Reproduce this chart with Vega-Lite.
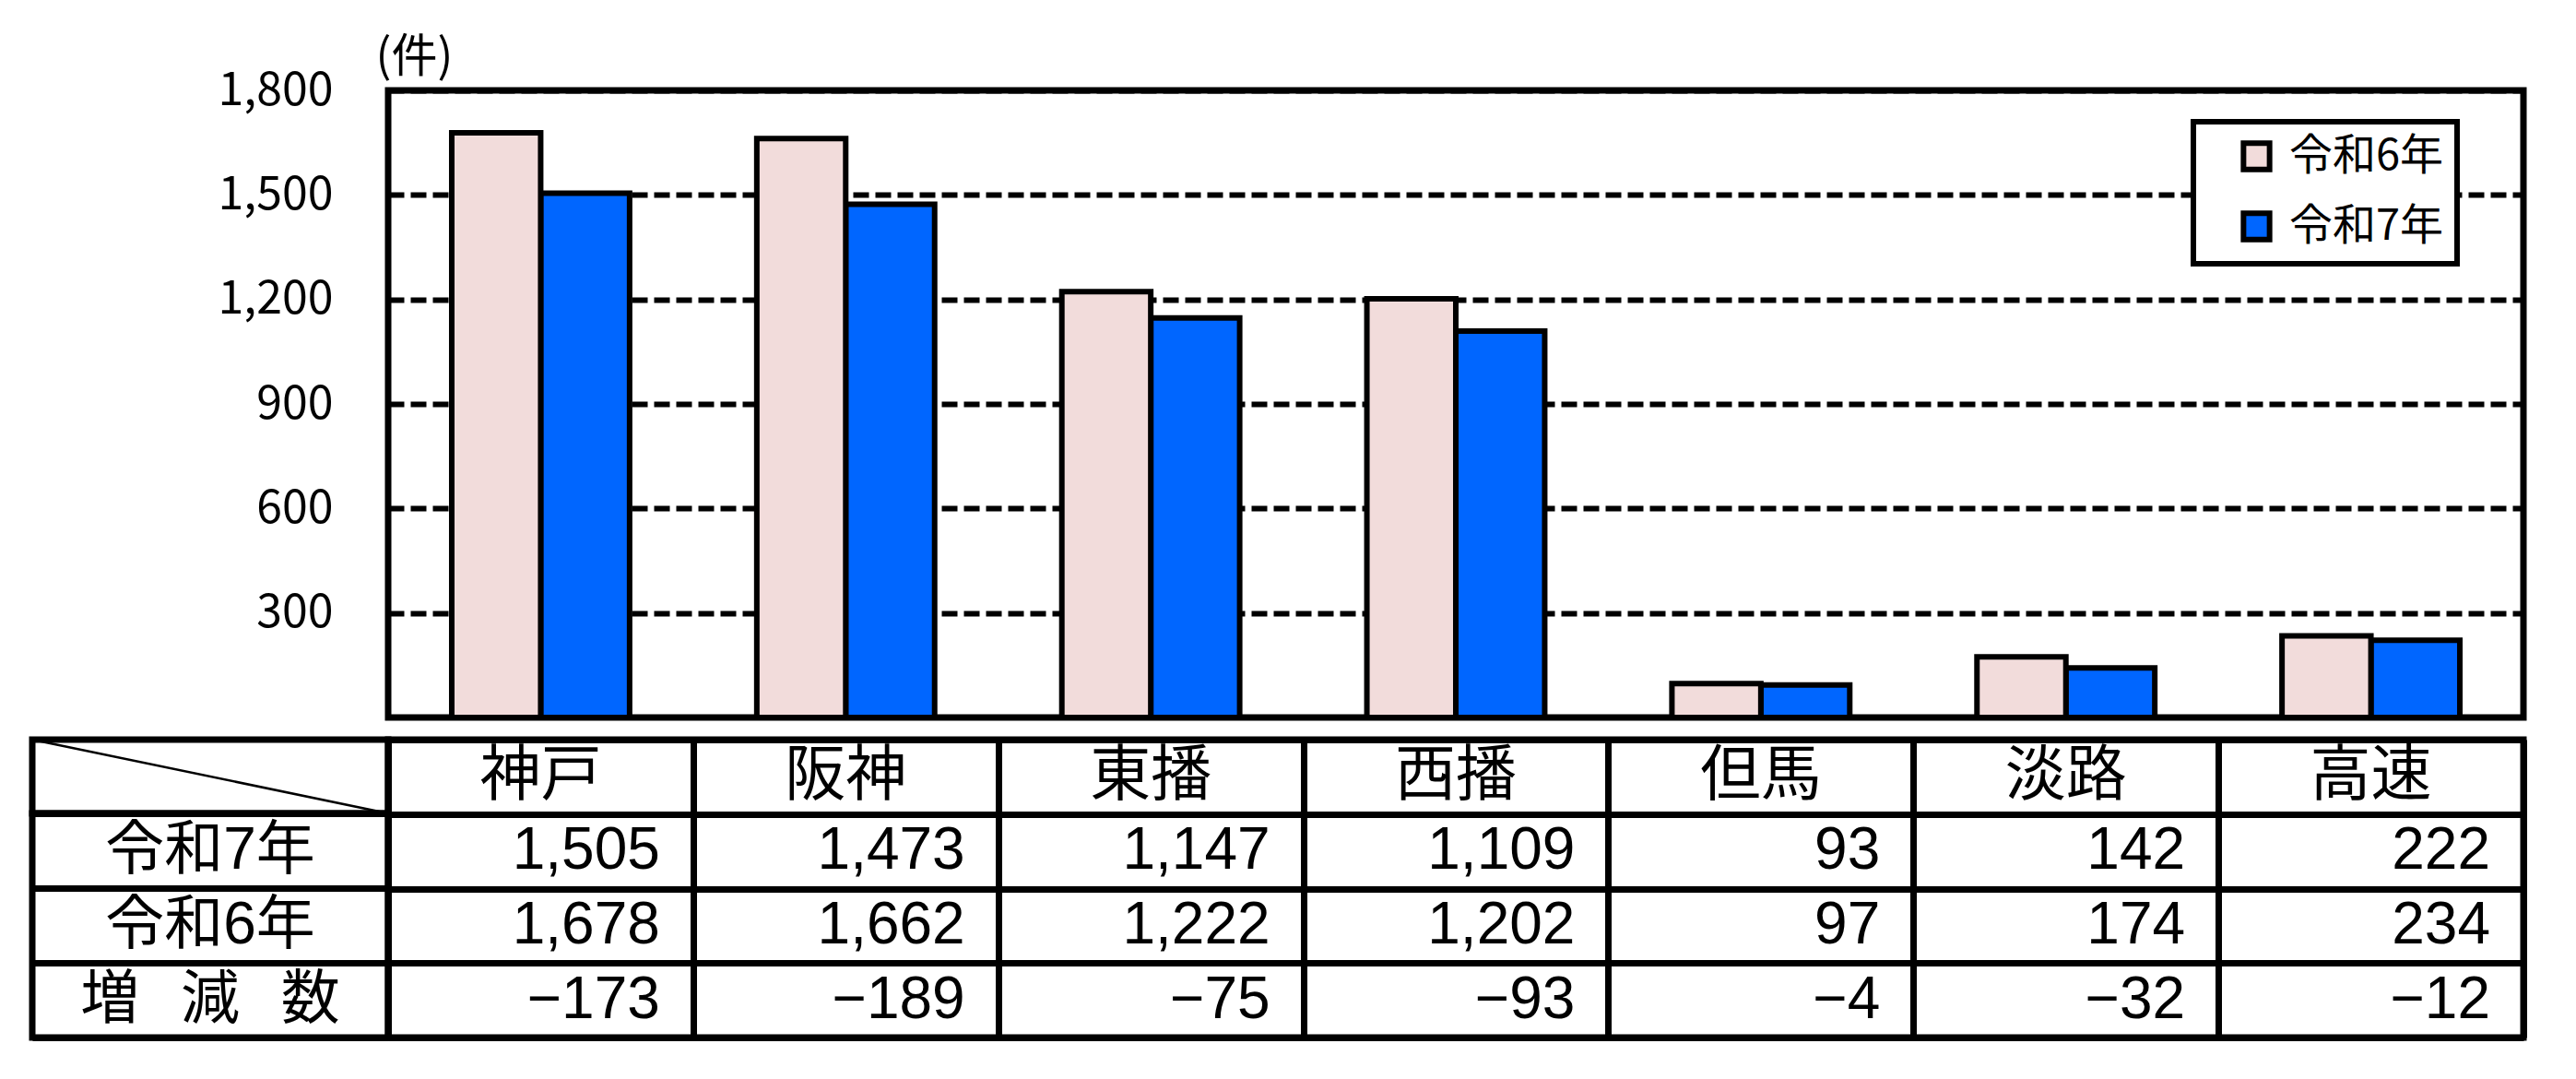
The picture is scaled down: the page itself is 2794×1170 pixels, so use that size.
{
  "$schema": "https://vega.github.io/schema/vega-lite/v6.json",
  "background": "white",
  "autosize": {"type": "pad"},
  "padding": {"left": 30, "top": 33, "right": 40, "bottom": 30},
  "config": {
    "font": "Noto Sans CJK JP",
    "view": {"stroke": "black", "strokeWidth": 7},
    "legend": {"strokeWidth": 6}
  },
  "datasets": {
    "counts": [
      {"region": "神戸", "row": "令和7年", "value": 1505},
      {"region": "神戸", "row": "令和6年", "value": 1678},
      {"region": "神戸", "row": "増\u2002\u2009減\u2002\u2009数", "value": -173},
      {"region": "阪神", "row": "令和7年", "value": 1473},
      {"region": "阪神", "row": "令和6年", "value": 1662},
      {"region": "阪神", "row": "増\u2002\u2009減\u2002\u2009数", "value": -189},
      {"region": "東播", "row": "令和7年", "value": 1147},
      {"region": "東播", "row": "令和6年", "value": 1222},
      {"region": "東播", "row": "増\u2002\u2009減\u2002\u2009数", "value": -75},
      {"region": "西播", "row": "令和7年", "value": 1109},
      {"region": "西播", "row": "令和6年", "value": 1202},
      {"region": "西播", "row": "増\u2002\u2009減\u2002\u2009数", "value": -93},
      {"region": "但馬", "row": "令和7年", "value": 93},
      {"region": "但馬", "row": "令和6年", "value": 97},
      {"region": "但馬", "row": "増\u2002\u2009減\u2002\u2009数", "value": -4},
      {"region": "淡路", "row": "令和7年", "value": 142},
      {"region": "淡路", "row": "令和6年", "value": 174},
      {"region": "淡路", "row": "増\u2002\u2009減\u2002\u2009数", "value": -32},
      {"region": "高速", "row": "令和7年", "value": 222},
      {"region": "高速", "row": "令和6年", "value": 234},
      {"region": "高速", "row": "増\u2002\u2009減\u2002\u2009数", "value": -12}
    ]
  },
  "columns": 2,
  "spacing": {"row": 24, "column": 0},
  "bounds": "flush",
  "concat": [
    {
      "width": 386,
      "height": 680,
      "view": {"stroke": null},
      "data": {"values": [{}]},
      "mark": {"type": "text"},
      "encoding": {"text": {"value": ""}}
    },
    {
      "width": 2316,
      "height": 680,
      "data": {"name": "counts"},
      "transform": [{"filter": "datum.row == '令和6年' || datum.row == '令和7年'"}],
      "mark": {"type": "bar", "stroke": "black", "strokeWidth": 6},
      "encoding": {
        "x": {
          "field": "region",
          "type": "nominal",
          "scale": {"domain": ["神戸", "阪神", "東播", "西播", "但馬", "淡路", "高速"], "paddingInner": 0.417, "paddingOuter": 0.2085},
          "axis": null
        },
        "xOffset": {
          "field": "row",
          "type": "nominal",
          "scale": {"domain": ["令和6年", "令和7年"], "paddingInner": 0, "paddingOuter": 0}
        },
        "y": {
          "field": "value",
          "type": "quantitative",
          "scale": {"domain": [0, 1800], "nice": false},
          "axis": {
            "values": [300, 600, 900, 1200, 1500, 1800],
            "format": ",.0f",
            "title": "(件)",
            "titleAngle": 0,
            "titleX": -14,
            "titleY": -36,
            "titleAlign": "left",
            "titleBaseline": "middle",
            "titleFontSize": 50,
            "titleFontWeight": "normal",
            "titleColor": "black",
            "labelFontSize": 50,
            "labelColor": "black",
            "labelPadding": 60,
            "ticks": false,
            "domain": false,
            "grid": true,
            "gridColor": "black",
            "gridWidth": 6,
            "gridDash": [17, 7],
            "gridOpacity": 1
          }
        },
        "color": {
          "field": "row",
          "type": "nominal",
          "scale": {"domain": ["令和6年", "令和7年"], "range": ["#F2DCDB", "#0066FF"]},
          "legend": {
            "title": null,
            "orient": "none",
            "legendX": 2344,
            "legendY": 34,
            "direction": "vertical",
            "symbolType": "square",
            "symbolSize": 800,
            "symbolStrokeColor": "black",
            "symbolStrokeWidth": 6,
            "symbolOpacity": 1,
            "symbolOffset": 31,
            "labelFontSize": 47,
            "labelColor": "black",
            "labelOffset": 12,
            "labelLimit": 400,
            "rowPadding": 23,
            "padding": 14,
            "strokeColor": "black",
            "fillColor": "white"
          }
        }
      }
    },
    {
      "spacing": 0,
      "bounds": "flush",
      "vconcat": [
        {
          "width": 386,
          "height": 80,
          "data": {"values": [{}]},
          "mark": {"type": "rule", "stroke": "black", "strokeWidth": 2.5},
          "encoding": {
            "x": {"datum": 0, "type": "quantitative", "scale": {"domain": [0, 1], "nice": false}, "axis": null},
            "x2": {"datum": 1},
            "y": {"datum": 1, "type": "quantitative", "scale": {"domain": [0, 1], "nice": false}, "axis": null},
            "y2": {"datum": 0}
          }
        },
        {
          "width": 386,
          "height": 243,
          "data": {"name": "counts"},
          "transform": [{"filter": "datum.region == '神戸'"}],
          "mark": {"type": "text", "font": "Liberation Sans, Noto Sans CJK JP", "fontSize": 64, "color": "black"},
          "encoding": {
            "y": {
              "field": "row",
              "type": "nominal",
              "scale": {"domain": ["令和7年", "令和6年", "増\u2002\u2009減\u2002\u2009数"], "paddingInner": 0, "paddingOuter": 0},
              "axis": {"labels": false, "ticks": false, "domain": false, "title": null, "grid": true, "tickBand": "extent", "gridColor": "black", "gridWidth": 7, "gridOpacity": 1}
            },
            "text": {"field": "row"}
          }
        }
      ]
    },
    {
      "width": 2316,
      "height": 323,
      "data": {"name": "counts"},
      "layer": [
        {
          "transform": [{"filter": "datum.row == '令和7年'"}],
          "mark": {"type": "text", "fontSize": 66, "color": "black"},
          "encoding": {
            "x": {
              "field": "region",
              "type": "nominal",
              "scale": {"domain": ["神戸", "阪神", "東播", "西播", "但馬", "淡路", "高速"], "paddingInner": 0, "paddingOuter": 0},
              "axis": {"labels": false, "ticks": false, "domain": false, "title": null, "grid": true, "tickBand": "extent", "gridColor": "black", "gridWidth": 7, "gridOpacity": 1}
            },
            "y": {
              "datum": "地域",
              "type": "nominal",
              "scale": {"domain": ["地域", "令和7年", "令和6年", "増\u2002\u2009減\u2002\u2009数"], "paddingInner": 0, "paddingOuter": 0},
              "axis": {"labels": false, "ticks": false, "domain": false, "title": null, "grid": true, "tickBand": "extent", "gridColor": "black", "gridWidth": 7, "gridOpacity": 1}
            },
            "text": {"field": "region"}
          }
        },
        {
          "mark": {"type": "text", "font": "Liberation Sans", "fontSize": 64, "color": "black", "align": "right", "dx": -36},
          "encoding": {
            "x": {
              "field": "region",
              "type": "nominal",
              "bandPosition": 1,
              "scale": {"domain": ["神戸", "阪神", "東播", "西播", "但馬", "淡路", "高速"], "paddingInner": 0, "paddingOuter": 0},
              "axis": {"labels": false, "ticks": false, "domain": false, "title": null, "grid": true, "tickBand": "extent", "gridColor": "black", "gridWidth": 7, "gridOpacity": 1}
            },
            "y": {
              "field": "row",
              "type": "nominal",
              "scale": {"domain": ["地域", "令和7年", "令和6年", "増\u2002\u2009減\u2002\u2009数"], "paddingInner": 0, "paddingOuter": 0},
              "axis": {"labels": false, "ticks": false, "domain": false, "title": null, "grid": true, "tickBand": "extent", "gridColor": "black", "gridWidth": 7, "gridOpacity": 1}
            },
            "text": {"field": "value", "type": "quantitative", "format": ","}
          }
        }
      ]
    }
  ]
}
